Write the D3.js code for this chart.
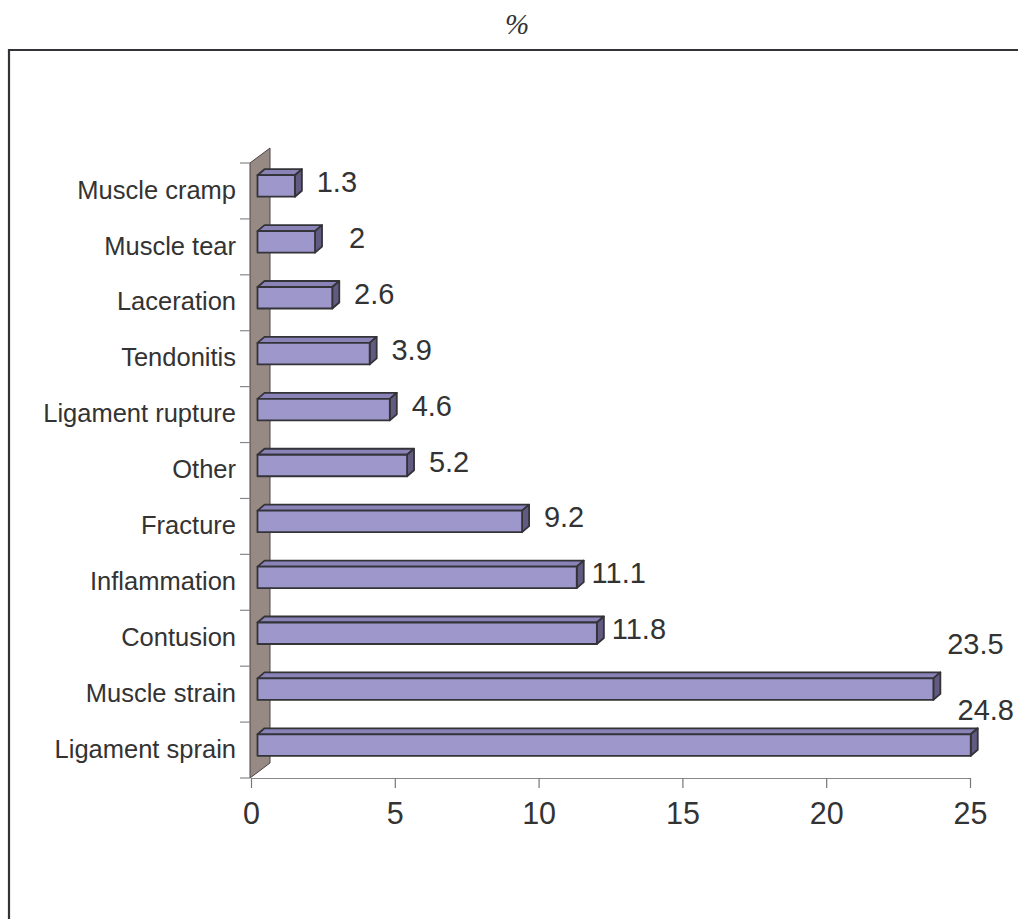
<!DOCTYPE html>
<html>
<head>
<meta charset="utf-8">
<script src="https://cdn.jsdelivr.net/npm/d3@7"></script>
<style>
  html, body { margin: 0; padding: 0; background: #fff; }
  svg { display: block; }
</style>
</head>
<body>
<script>
// Injury types, listed top to bottom as drawn
const categories = [
  "Muscle cramp", "Muscle tear", "Laceration", "Tendonitis", "Ligament rupture",
  "Other", "Fracture", "Inflammation", "Contusion", "Muscle strain", "Ligament sprain"
];
// Share of injuries, %
const values = [1.3, 2, 2.6, 3.9, 4.6, 5.2, 9.2, 11.1, 11.8, 23.5, 24.8];
// Value-axis ticks
const xTicks = [0, 5, 10, 15, 20, 25];

// Hand-placed labels for the two longest bars (pixel nudges from default spot)
const labelNudge = { "Muscle strain": [0, -41], "Ligament sprain": [-27, -31] };

const W = 1018, H = 919;
const svg = d3.select("body").append("svg").attr("width", W).attr("height", H);

const x = d3.scaleLinear().domain([0, 25]).range([251, 970]);
const y = d3.scaleBand().domain(categories).range([163, 778]).padding(0);

// oblique depth of the wall and of each bar
const wallDX = 20, wallDY = -15;
const barDX = 7, barDY = -6;
const barOffX = 6.5, barOffY = -5;   // bar front sits partway into the depth
const barH = 21.5;

// outer frame (open on the right and bottom)
svg.append("path")
  .attr("d", `M9,${H} V50 H${W}`)
  .attr("fill", "none").attr("stroke", "#333338").attr("stroke-width", 2.2);

// title
svg.append("text")
  .attr("x", 517).attr("y", 34)
  .attr("text-anchor", "middle")
  .attr("font-family", "'Liberation Serif', 'DejaVu Serif', serif")
  .attr("font-style", "italic")
  .attr("font-size", 29)
  .attr("fill", "#333")
  .text("%");

// back wall
const y0 = y.range()[0], y1 = y.range()[1], xw = x(0) - 1;
svg.append("path")
  .attr("d", `M${xw},${y0} L${xw + wallDX},${y0 + wallDY} L${xw + wallDX},${y1 + wallDY} L${xw},${y1} Z`)
  .attr("fill", "#978a85").attr("stroke", "#4a4446").attr("stroke-width", 1);

// category tick marks at band boundaries
const bounds = categories.map(c => y(c)).concat([y1]);
svg.append("g").selectAll("line").data(bounds).join("line")
  .attr("x1", xw - 10).attr("x2", xw)
  .attr("y1", d => d).attr("y2", d => d)
  .attr("stroke", "#888").attr("stroke-width", 1.2);

// category labels
const axisY = d3.axisLeft(y).tickSize(0).tickPadding(0);
const gy = svg.append("g").attr("transform", `translate(236,0)`).call(axisY);
gy.select(".domain").remove();
gy.selectAll("text")
  .attr("font-family", "'Liberation Sans', Arial, sans-serif")
  .attr("font-size", 25.5)
  .attr("fill", "#333")
  .attr("dy", "0.3em");

// value axis
const axisX = d3.axisBottom(x).tickValues(xTicks).tickSize(10).tickPadding(14).tickSizeOuter(0);
const gx = svg.append("g").attr("transform", `translate(0,${y1})`).call(axisX);
gx.select(".domain").attr("stroke", "#888").attr("stroke-width", 1.2);
gx.selectAll(".tick line").attr("stroke", "#777").attr("stroke-width", 1.2);
gx.selectAll("text")
  .attr("font-family", "'Liberation Sans', Arial, sans-serif")
  .attr("font-size", 30.5)
  .attr("fill", "#333");

// bars
const bars = svg.append("g");
categories.forEach((c, i) => {
  const v = values[i];
  const cy = y(c) + y.bandwidth() / 2 + barOffY;
  const xa = x(0) + barOffX, xb = x(v) + barOffX;
  const top = cy - barH / 2, bot = cy + barH / 2;
  const g = bars.append("g").attr("stroke", "#333338").attr("stroke-width", 1.8).attr("stroke-linejoin", "round");
  // top face
  g.append("path")
    .attr("d", `M${xa},${top} L${xa + barDX},${top + barDY} L${xb + barDX},${top + barDY} L${xb},${top} Z`)
    .attr("fill", "#8983b8");
  // end face
  g.append("path")
    .attr("d", `M${xb},${top} L${xb + barDX},${top + barDY} L${xb + barDX},${bot + barDY} L${xb},${bot} Z`)
    .attr("fill", "#625a80");
  // front face
  g.append("rect")
    .attr("x", xa).attr("y", top).attr("width", xb - xa).attr("height", barH)
    .attr("fill", "#9d97cc");

  // value label
  const n = labelNudge[c] || [0, 0];
  svg.append("text")
    .attr("x", xb + 42 + n[0])
    .attr("y", y(c) + y.bandwidth() / 2 + 1 + n[1])
    .attr("text-anchor", "middle")
    .attr("font-family", "'Liberation Sans', Arial, sans-serif")
    .attr("font-size", 29)
    .attr("fill", "#333")
    .text(String(v));
});
</script>
</body>
</html>
